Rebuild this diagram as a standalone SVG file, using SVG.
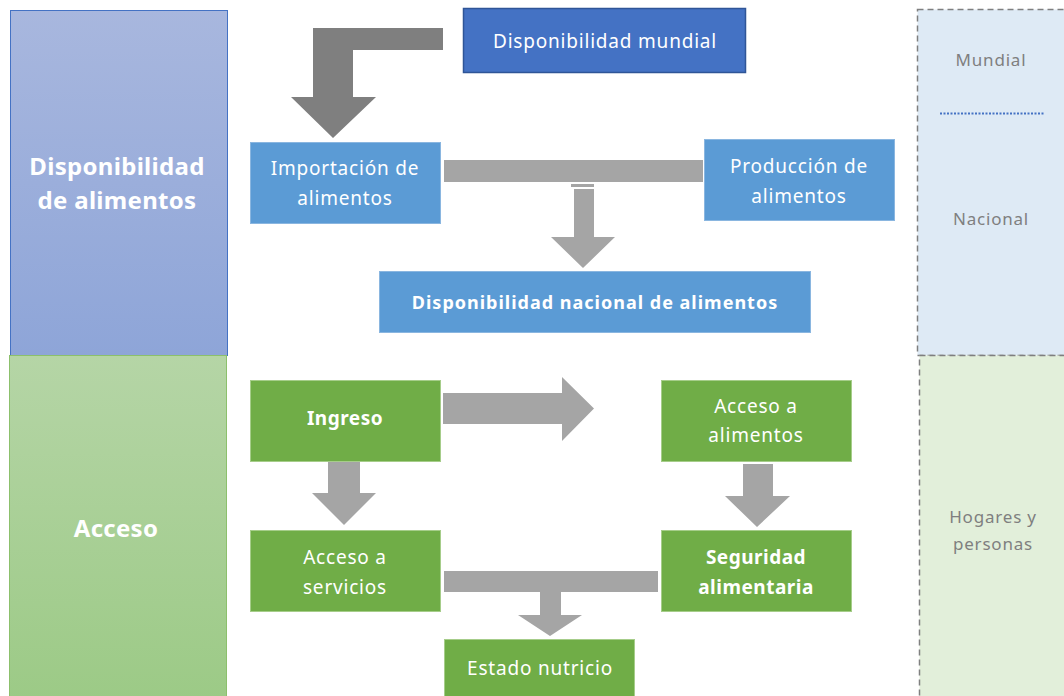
<svg xmlns="http://www.w3.org/2000/svg" width="1064" height="696" viewBox="0 0 1064 696">
<defs>
<linearGradient id="gBlue" x1="0" y1="0" x2="0" y2="1"><stop offset="0" stop-color="#a8b7de"/><stop offset="1" stop-color="#8ea5d8"/></linearGradient>
<linearGradient id="gGreen" x1="0" y1="0" x2="0" y2="1"><stop offset="0" stop-color="#b5d5a6"/><stop offset="1" stop-color="#9cca86"/></linearGradient>
<style>
.t{font-family:"Noto Sans","Open Sans",sans-serif;fill:#ffffff;text-anchor:middle;dominant-baseline:central;font-size:19px;letter-spacing:0.8px}
.b{font-weight:bold}
.g{font-family:"Noto Sans","Open Sans",sans-serif;fill:#7f7f7f;text-anchor:middle;dominant-baseline:central;font-size:17px;letter-spacing:0.8px}
.blue{fill:#5b9bd5;stroke:#8ab6e0;stroke-width:1}
.green{fill:#70ad47;stroke:#a6cd8a;stroke-width:1}
.arr{fill:#a5a5a5}
</style>
</defs>
<rect width="1064" height="696" fill="#ffffff"/>
<g id="panel-disponibilidad">
<rect x="10.5" y="10.5" width="217" height="345" fill="url(#gBlue)" stroke="#4472c4" stroke-width="1"/>
<text class="t b" x="117" y="165" style="font-size:24px;letter-spacing:0.3px">Disponibilidad</text>
<text class="t b" x="117" y="199" style="font-size:24px;letter-spacing:0.3px">de alimentos</text>
</g>
<g id="panel-acceso">
<rect x="9.5" y="355.5" width="217" height="345" fill="url(#gGreen)" stroke="#8cc06c" stroke-width="1"/>
<text class="t b" x="116" y="527" style="font-size:24px;letter-spacing:0.3px">Acceso</text>
</g>
<g id="panel-nivel-nacional">
<rect x="917.5" y="9.5" width="160" height="346" fill="#deeaf5" stroke="#7f7f7f" stroke-width="1.5" stroke-dasharray="6,4"/>
<text class="g" x="991" y="59">Mundial</text>
<line x1="940" y1="113.5" x2="1045" y2="113.5" stroke="#4472c4" stroke-width="2" stroke-dasharray="2,1.5"/>
<text class="g" x="991" y="218">Nacional</text>
</g>
<g id="panel-hogares">
<rect x="919.5" y="355.5" width="160" height="350" fill="#e2efda" stroke="#7f7f7f" stroke-width="1.5" stroke-dasharray="6,4"/>
<text class="g" x="993" y="516">Hogares y</text>
<text class="g" x="993" y="543">personas</text>
</g>
<g id="connectors">
<path d="M443,28 L313,28 L313,97 L291,97 L333,138 L376,97 L353,97 L353,50 L443,50 Z" fill="#7f7f7f"/>
<rect class="arr" x="444" y="160" width="259" height="22"/>
<rect class="arr" x="571" y="184" width="23" height="3"/>
<path class="arr" d="M574,189 L594,189 L594,237 L615,237 L583,268 L551,237 L574,237 Z"/>
<path class="arr" d="M443,393 L562,393 L562,377 L594,408.5 L562,441 L562,424 L443,424 Z"/>
<path class="arr" d="M328,462 L360,462 L360,493 L376,493 L344,525 L312,493 L328,493 Z"/>
<path class="arr" d="M743,464 L773,464 L773,496 L790,496 L757,527 L725,496 L743,496 Z"/>
<rect class="arr" x="444" y="571" width="214" height="21"/>
<path class="arr" d="M540,592 L561,592 L561,615 L582,615 L550,636 L518,615 L540,615 Z"/>
</g>
<g id="node-disponibilidad-mundial">
<rect x="463.5" y="8.5" width="282" height="64" fill="#4472c4" stroke="#2f5597" stroke-width="1.5"/>
<text class="t" x="605" y="41">Disponibilidad mundial</text>
</g>
<g id="node-importacion">
<rect class="blue" x="250.5" y="142.5" width="190" height="81"/>
<text class="t" x="345" y="168">Importación de</text>
<text class="t" x="345" y="198">alimentos</text>
</g>
<g id="node-produccion">
<rect class="blue" x="704.5" y="139.5" width="190" height="81"/>
<text class="t" x="799" y="166">Producción de</text>
<text class="t" x="799" y="196">alimentos</text>
</g>
<g id="node-disponibilidad-nacional">
<rect class="blue" x="379.5" y="271.5" width="431" height="61"/>
<text class="t b" x="595" y="302" style="font-size:18px;letter-spacing:1px">Disponibilidad nacional de alimentos</text>
</g>
<g id="node-ingreso">
<rect class="green" x="250.5" y="380.5" width="190" height="81"/>
<text class="t b" x="345" y="418" style="letter-spacing:0.5px">Ingreso</text>
</g>
<g id="node-acceso-servicios">
<rect class="green" x="250.5" y="530.5" width="190" height="81"/>
<text class="t" x="345" y="557">Acceso a</text>
<text class="t" x="345" y="587">servicios</text>
</g>
<g id="node-acceso-alimentos">
<rect class="green" x="661.5" y="380.5" width="190" height="81"/>
<text class="t" x="756" y="406">Acceso a</text>
<text class="t" x="756" y="435">alimentos</text>
</g>
<g id="node-seguridad">
<rect class="green" x="661.5" y="530.5" width="190" height="81"/>
<text class="t b" x="756" y="557" style="letter-spacing:0.5px">Seguridad</text>
<text class="t b" x="756" y="587" style="letter-spacing:0.5px">alimentaria</text>
</g>
<g id="node-estado-nutricio">
<rect class="green" x="444.5" y="639.5" width="190" height="70"/>
<text class="t" x="540" y="668">Estado nutricio</text>
</g>
</svg>
